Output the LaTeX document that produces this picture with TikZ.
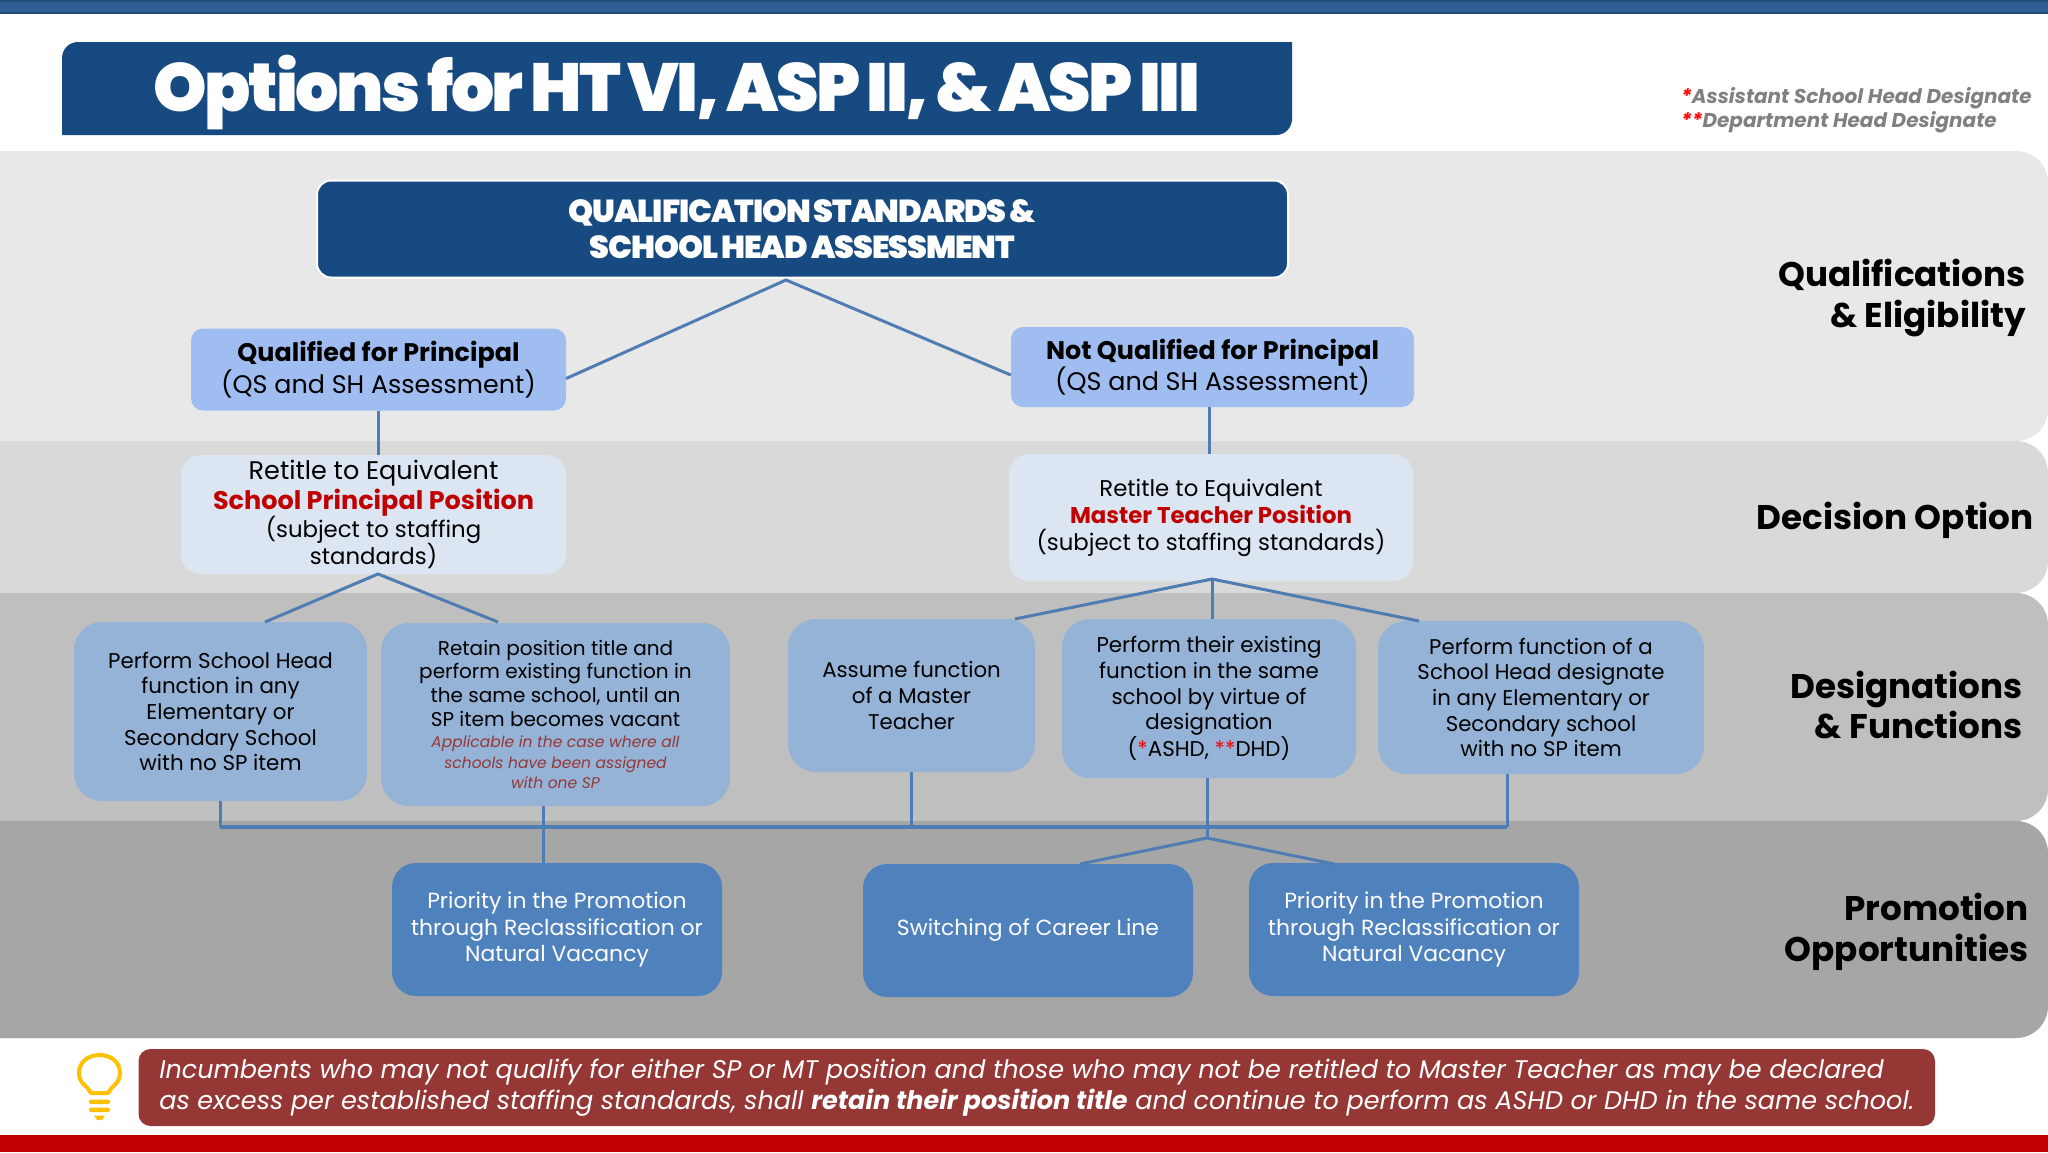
\documentclass[tikz,border=0pt]{standalone}
\usepackage{fontspec}
\setmainfont{Poppins}
\newfontfamily\titlefont[LetterSpace=-3.5,WordSpace=0.6]{Poppins Black}
\newfontfamily\heavyfont[LetterSpace=-3.5,WordSpace=0.7]{Poppins Black}
\definecolor{topbar}{HTML}{2F5F94}
\definecolor{topedge}{HTML}{1F4E79}
\definecolor{navy}{HTML}{164A80}
\definecolor{bandA}{HTML}{E8E8E8}
\definecolor{bandB}{HTML}{D9D9D9}
\definecolor{bandC}{HTML}{BFBFBF}
\definecolor{bandD}{HTML}{A6A6A6}
\definecolor{qualblue}{HTML}{9FBDF0}
\definecolor{pale}{HTML}{DCE6F2}
\definecolor{midblue}{HTML}{95B3D7}
\definecolor{strong}{HTML}{4F81BD}
\definecolor{linkblue}{HTML}{4F7CB3}
\definecolor{noteRed}{HTML}{953735}
\definecolor{deepRed}{HTML}{C00000}
\definecolor{bulb}{HTML}{FFC000}
\newcommand{\fs}[2]{\fontsize{#1}{#2}\selectfont}
\tikzset{
  boxbase/.style={rectangle,inner sep=0pt,align=center,text=black},
  qsbox/.style={boxbase,fill=navy,draw=white,line width=2pt,rounded corners=14pt,text=white},
  qualbox/.style={boxbase,fill=qualblue,rounded corners=12pt,font=\fs{25.4}{30}},
  retitlebox/.style={boxbase,fill=pale,rounded corners=20pt},
  desigbox/.style={boxbase,fill=midblue,rounded corners=28pt},
  promobox/.style={boxbase,fill=strong,rounded corners=24pt,text=white,font=\fs{21.9}{26.6}},
  notebox/.style={boxbase,fill=noteRed,rounded corners=12pt,text=white,align=left,font=\fs{25.5}{31}\itshape},
  sidelabel/.style={align=right,anchor=east,inner sep=0pt,font=\fs{34.2}{40.5}\bfseries,text=black},
  link/.style={draw=linkblue,line width=3pt},
  bus/.style={draw=linkblue,line width=4.5pt},
}
\begin{document}
\begin{tikzpicture}[x=1pt,y=-1pt]
\useasboundingbox (0,0) rectangle (2048,1152);
\fill[white] (0,0) rectangle (2048,1152);
% top and bottom bars
\fill[topbar] (0,0) rectangle (2048,14);
\fill[topedge] (0,0) rectangle (2048,2);
\fill[topedge] (0,11.5) rectangle (2048,14);
\fill[deepRed] (0,1135) rectangle (2048,1152);
% bands
\fill[bandA] (0,151) [rounded corners=32pt] -- (2048,151) -- (2048,441) [sharp corners] -- (0,441) -- cycle;
\fill[bandB] (0,441) [rounded corners=32pt] -- (2048,441) -- (2048,593) [sharp corners] -- (0,593) -- cycle;
\fill[bandC] (0,593) [rounded corners=32pt] -- (2048,593) -- (2048,821) [sharp corners] -- (0,821) -- cycle;
\fill[bandD] (0,821) [rounded corners=32pt] -- (2048,821) -- (2048,1038) [sharp corners] -- (0,1038) -- cycle;
% title
\fill[navy] (62,135) [rounded corners=16pt] -- (62,42) [sharp corners] -- (1292,42) [rounded corners=16pt] -- (1292,135) [sharp corners] -- cycle;
\node[inner sep=0pt,text=white,font=\fs{68}{72}\titlefont] (title) at (677,92) {Options for HT VI, ASP II, \& ASP III};
% legend
\node[inner sep=0pt,anchor=west,align=left,text=black!50,font=\fs{20}{24}\bfseries\itshape] (legend) at (1681,110.5)
  {\textcolor{red}{*}Assistant School Head Designate\\\textcolor{red}{**}Department Head Designate};
% top level
\node[qsbox,minimum width=971pt,minimum height=97pt,font=\fs{31.8}{36}\heavyfont] (qs) at (802.5,229)
  {QUALIFICATION STANDARDS \&\\SCHOOL HEAD ASSESSMENT};
\node[qualbox,minimum width=375pt,minimum height=82pt] (qual) at (378.5,369.5)
  {\textbf{Qualified for Principal}\\(QS and SH Assessment)};
\node[qualbox,minimum width=403pt,minimum height=80pt] (notq) at (1212.5,367)
  {\textbf{Not Qualified for Principal}\\(QS and SH Assessment)};
% decisions
\node[retitlebox,minimum width=385pt,minimum height=119pt,font=\fs{25.5}{28.8}] (rsp) at (373.5,514.5)
  {Retitle to Equivalent\\[1pt]\textcolor{deepRed}{\textbf{School Principal Position}}\\[-1pt]
   {\fs{22.8}{27}(subject to staffing}\\[-2pt]{\fs{22.8}{27}standards)}};
\node[retitlebox,minimum width=404pt,minimum height=127pt,font=\fs{22.8}{27}] (rmt) at (1211,517.5)
  {Retitle to Equivalent\\\textcolor{deepRed}{\textbf{Master Teacher Position}}\\(subject to staffing standards)};
% designations
\node[desigbox,minimum width=293pt,minimum height=179pt,font=\fs{21.4}{25.6}] (d1) at (220.5,711.5)
  {Perform School Head\\function in any\\Elementary or\\Secondary School\\with no SP item};
\node[desigbox,minimum width=349pt,minimum height=183pt,font=\fs{20}{23.8}] (d2) at (555.5,714.5)
  {Retain position title and\\perform existing function in\\the same school, until an\\SP item becomes vacant\\[-3pt]
   {\fs{15.5}{18.9}\itshape\textcolor{noteRed}{Applicable in the case where all}}\\[-3pt]
   {\fs{15.5}{18.9}\itshape\textcolor{noteRed}{schools have been assigned}}\\[-3pt]
   {\fs{15.5}{18.9}\itshape\textcolor{noteRed}{with one SP}}};
\node[desigbox,minimum width=247pt,minimum height=153pt,font=\fs{21.3}{25.6}] (d3) at (911.5,695.5)
  {Assume function\\of a Master\\Teacher};
\node[desigbox,minimum width=294pt,minimum height=159pt,font=\fs{21.4}{25.6}] (d4) at (1209,698.5)
  {Perform their existing\\function in the same\\school by virtue of\\designation\\(\textcolor{red}{*}ASHD, \textcolor{red}{**}DHD)};
\node[desigbox,minimum width=326pt,minimum height=153pt,font=\fs{21.3}{25.6}] (d5) at (1541,697.5)
  {Perform function of a\\School Head designate\\in any Elementary or\\Secondary school\\with no SP item};
% promotion
\node[promobox,minimum width=330pt,minimum height=133pt] (p1) at (557,929.5)
  {Priority in the Promotion\\through Reclassification or\\Natural Vacancy};
\node[promobox,minimum width=330pt,minimum height=133pt] (p2) at (1028,930.5)
  {Switching of Career Line};
\node[promobox,minimum width=330pt,minimum height=133pt] (p3) at (1414,929.5)
  {Priority in the Promotion\\through Reclassification or\\Natural Vacancy};
% side labels
\node[sidelabel] (s1) at (2026,298) {Qualifications\\\& Eligibility};
\node[sidelabel] (s2) at (2034,520) {Decision Option};
\node[sidelabel] (s3) at (2023,705) {Designations\\\& Functions};
\node[sidelabel] (s4) at (2029,932) {Promotion\\Opportunities};
% note
\node[notebox,minimum width=1796.5pt,minimum height=77pt] (note) at (1036.75,1087.5)
  {Incumbents who may not qualify for either SP or MT position and those who may not be retitled to Master Teacher as may be declared\\
   as excess per established staffing standards, shall \textbf{retain their position title} and continue to perform as ASHD or DHD in the same school.};
% bulb
\draw[bulb,line width=4pt,line join=round] (91,1093) .. controls (88,1086) and (79,1084) .. (79,1073)
  .. controls (79,1062) and (88,1055) .. (99.5,1055) .. controls (111,1055) and (120,1062) .. (120,1073)
  .. controls (120,1084) and (111,1086) .. (108,1093) -- cycle;
\fill[bulb,rounded corners=2pt] (89,1099.5) rectangle (110,1104);
\fill[bulb,rounded corners=2pt] (89,1107.5) rectangle (110,1112);
\fill[bulb] (94,1115.5) -- (105,1115.5) -- (102,1120) -- (97,1120) -- cycle;
% connectors
\coordinate (apexA) at (786,280);
\coordinate (apexB) at (378,574);
\coordinate (apexC) at (1212,579);
\coordinate (apexD) at (1207,838);
\coordinate (leftB) at (265,622);
\coordinate (rightB) at (498,622);
\coordinate (leftC) at (1015,619);
\coordinate (rightC) at (1419,621);
\coordinate (leftD) at (1080,864);
\coordinate (rightD) at (1334,864);
\coordinate (busL) at (219.5,827);
\coordinate (busR) at (1507,827);
\coordinate (d2out) at (543,806);
\coordinate (d5out) at (1507,774);
\draw[link] ([yshift=-9pt]qual.east) -- (apexA) -- ([yshift=-8pt]notq.west);
\draw[link] (qual.south) -- (qual.south |- rsp.north);
\draw[link] ([xshift=-3pt]notq.south) -- ([xshift=-3pt]notq.south |- rmt.north);
\draw[link] (leftB) -- (apexB) -- (rightB);
\draw[link] (leftC) -- (apexC) -- (rightC);
\draw[link] (apexC) -- (apexC |- d4.north);
\draw[bus] (busL) -- (busR);
\draw[link] (d1.south) -- (d1.south |- busL);
\draw[link] (d2out) -- (d2out |- p1.north);
\draw[link] (d3.south) -- (d3.south |- busL);
\draw[link] ([xshift=-2pt]d4.south) -- (apexD);
\draw[link] (d5out) -- (d5out |- busR);
\draw[link] (leftD) -- (apexD) -- (rightD);
\end{tikzpicture}
\end{document}
